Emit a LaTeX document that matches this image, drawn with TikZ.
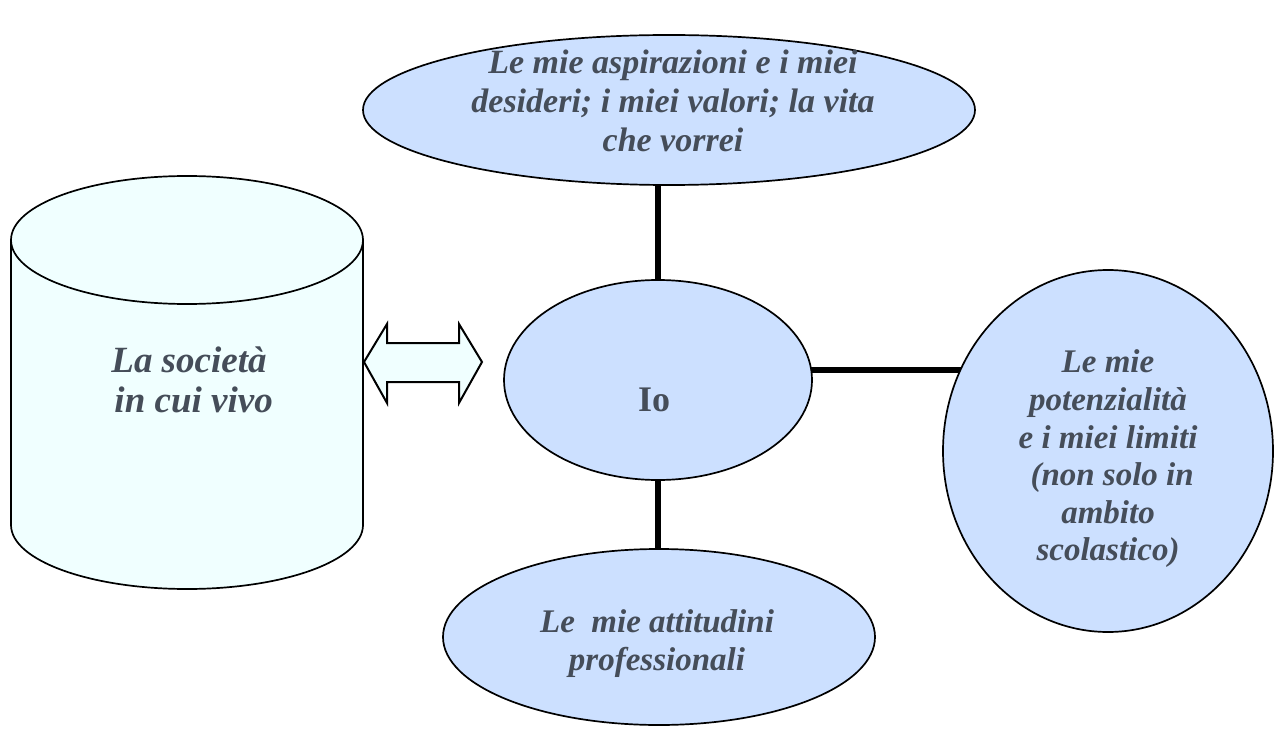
\documentclass[tikz,border=0pt]{standalone}
\usepackage{fontspec}
\setmainfont{Liberation Serif}
\usetikzlibrary{shapes.geometric,backgrounds}
\definecolor{ellfill}{HTML}{CCE0FF}
\definecolor{cylfill}{HTML}{F0FFFF}
\definecolor{txt}{HTML}{454D59}
\begin{document}
\begin{tikzpicture}[x=1pt,y=-1pt,
  bubble/.style={draw=black, line width=1.7pt, fill=ellfill, ellipse, inner sep=0pt},
  cylshape/.style={draw=black, line width=1.7pt, fill=cylfill},
  arrowbox/.style={draw=black, line width=2pt, fill=cylfill, line join=miter},
  conn/.style={draw=black, line width=5.5pt},
  txtbox/.style={text=txt, align=center, inner sep=0pt}
]
\useasboundingbox (0,0) rectangle (1274,730);

% cylinder
\filldraw[cylshape] (11,240) -- (11,525) arc[start angle=180, end angle=0, x radius=176, y radius=64] -- (363,240);
\filldraw[cylshape] (187,240) ellipse[x radius=176, y radius=64];
\node[txtbox, font=\fontsize{37}{40}\selectfont\bfseries\itshape] (soc) at (189,380) {La società\\\ in cui vivo};

% double arrow
\draw[arrowbox] (364,362) -- (387,324) -- (387,343) -- (459,343) -- (459,324) -- (482,362)
  -- (459,403) -- (459,382) -- (387,382) -- (387,403) -- cycle;

% ellipses
\node[bubble, minimum width=612pt, minimum height=150pt] (top) at (669,110) {};
\node[bubble, minimum width=308pt, minimum height=200pt] (io) at (658,380) {};
\node[bubble, minimum width=330pt, minimum height=362pt] (pot) at (1108,451) {};
\node[bubble, minimum width=432pt, minimum height=176pt] (bot) at (659,637) {};

% texts
\node[txtbox, font=\fontsize{34}{39}\selectfont\bfseries\itshape] (toptxt) at (673,101)
  {Le mie aspirazioni e i miei\\desideri; i miei valori; la vita\\che vorrei};
\node[txtbox, font=\fontsize{36}{40}\selectfont\bfseries] (iotxt) at (654,400) {Io};
\node[txtbox, font=\fontsize{33}{37.6}\selectfont\bfseries\itshape] (pottxt) at (1108,459)
  {Le mie\\potenzialità\\e i miei limiti\\\ (non solo in\\ambito\\scolastico)};
\node[txtbox, font=\fontsize{33}{38}\selectfont\bfseries\itshape] (bottxt) at (657,644)
  {Le\ \ mie attitudini\\professionali};

% connectors
\begin{scope}[on background layer]
  \draw[conn] (io.center) -- (io.center |- top.center);
  \draw[conn] (io.center) -- (io.center |- bot.center);
  \path ([yshift=10pt]io.center) coordinate (hA);
  \draw[conn] (hA) -- (hA -| pot.center);
\end{scope}
\end{tikzpicture}
\end{document}
